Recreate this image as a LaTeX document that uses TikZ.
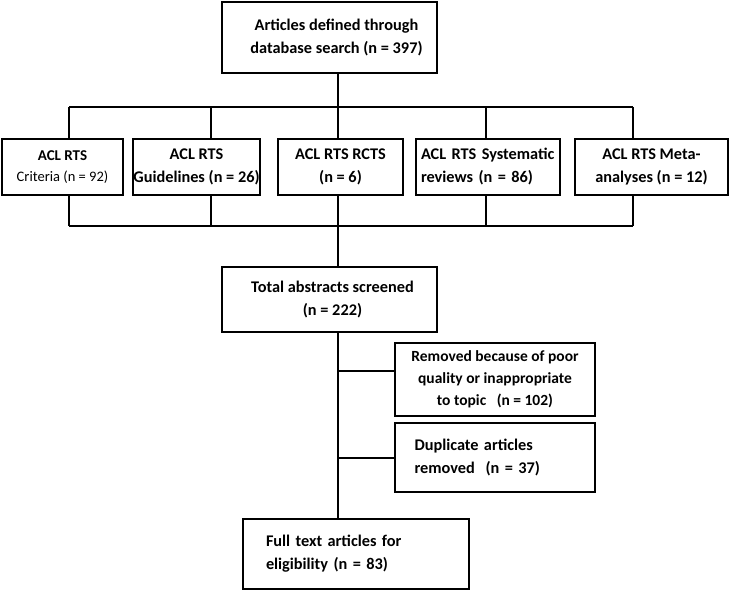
\documentclass[tikz,border=0pt]{standalone}
\usepackage{fontspec}
\setmainfont{Carlito}
\usetikzlibrary{positioning}
\begin{document}
\begin{tikzpicture}[x=1pt,y=-1pt]
	\tikzstyle{box} = [draw,line width=2pt,inner sep=0pt,align=center,font=\bfseries\fontsize{16.3}{23}\selectfont]
	\tikzstyle{link} = [line width=2pt]
	\useasboundingbox (0,0) rectangle (729,591);

		\node[box,minimum width=215pt,minimum height=71pt] (top) at (329.5,37.5){\hspace*{14pt}Articles defined through\\\hspace*{14pt}database search (n = 397)};

		\node[box,minimum width=121pt,minimum height=56pt,font=\bfseries\fontsize{15}{21}\selectfont] (u1) at (62.5,167){ACL RTS\\\mdseries\fontsize{14.5}{21}\selectfont Criteria (n = 92)};
		\node[box,minimum width=127pt,minimum height=56pt] (u2) at (196.5,167){ACL RTS\\Guidelines (n = 26)};
		\node[box,minimum width=125pt,minimum height=56pt] (u3) at (340.5,167){ACL RTS RCTS\\(n = 6)};
		\node[box,minimum width=144pt,minimum height=56pt,inner xsep=5pt,text width=134pt,align=left] (u4) at (488,167){ACL RTS Systematic\\reviews (n = 86)};
		\node[box,minimum width=153pt,minimum height=56pt] (u5) at (651.5,167){ACL RTS Meta-\\analyses (n = 12)};

		\node[box,minimum width=215pt,minimum height=65pt] (total) at (329.5,299.5){\hspace*{6pt}Total abstracts screened\\\hspace*{6pt}(n = 222)};
		\node[box,minimum width=200pt,minimum height=73pt,font=\bfseries\fontsize{15.5}{22}\selectfont] (rem) at (495,379.5){Removed because of poor\\quality or inappropriate\\to topic \ \ (n = 102)};
		\node[box,minimum width=200pt,minimum height=69pt,inner xsep=19.5pt,text width=161pt,align=left] (dup) at (495,457.5){Duplicate articles\\removed \ (n = 37)};
		\node[box,minimum width=226pt,minimum height=70pt,inner xsep=23pt,text width=180pt,align=left] (full) at (356,554){Full text articles for\\eligibility (n = 83)};

		\coordinate (k1) at (69,107);
		\coordinate (k2) at (211,107);
		\coordinate (k3) at (338,107);
		\coordinate (k4) at (486,107);
		\coordinate (k5) at (633,107);
		\coordinate (m1) at (69,226);
		\coordinate (m2) at (211,226);
		\coordinate (m3) at (338,226);
		\coordinate (m4) at (486,226);
		\coordinate (m5) at (633,226);
		\coordinate (r) at ([yshift=8.5pt]rem.west);

		\draw[link] (top.south -| k3) -- (k3);
		\draw[link] (k1) -- (k5);
		\foreach \i in {1,...,5}
			\draw[link] (k\i) -- (k\i |- u\i.north);
		\draw[link] (m1) -- (m5);
		\foreach \i in {1,...,5}
			\draw[link] (m\i) -- (m\i |- u\i.south);
		\draw[link] (m3) -- (m3 |- total.north);
		\draw[link] (total.south -| m3) -- (full.north -| m3);
		\draw[link] (r -| m3) -- (r);
		\draw[link] (dup.west -| m3) -- (dup.west);

\end{tikzpicture}
\end{document}
